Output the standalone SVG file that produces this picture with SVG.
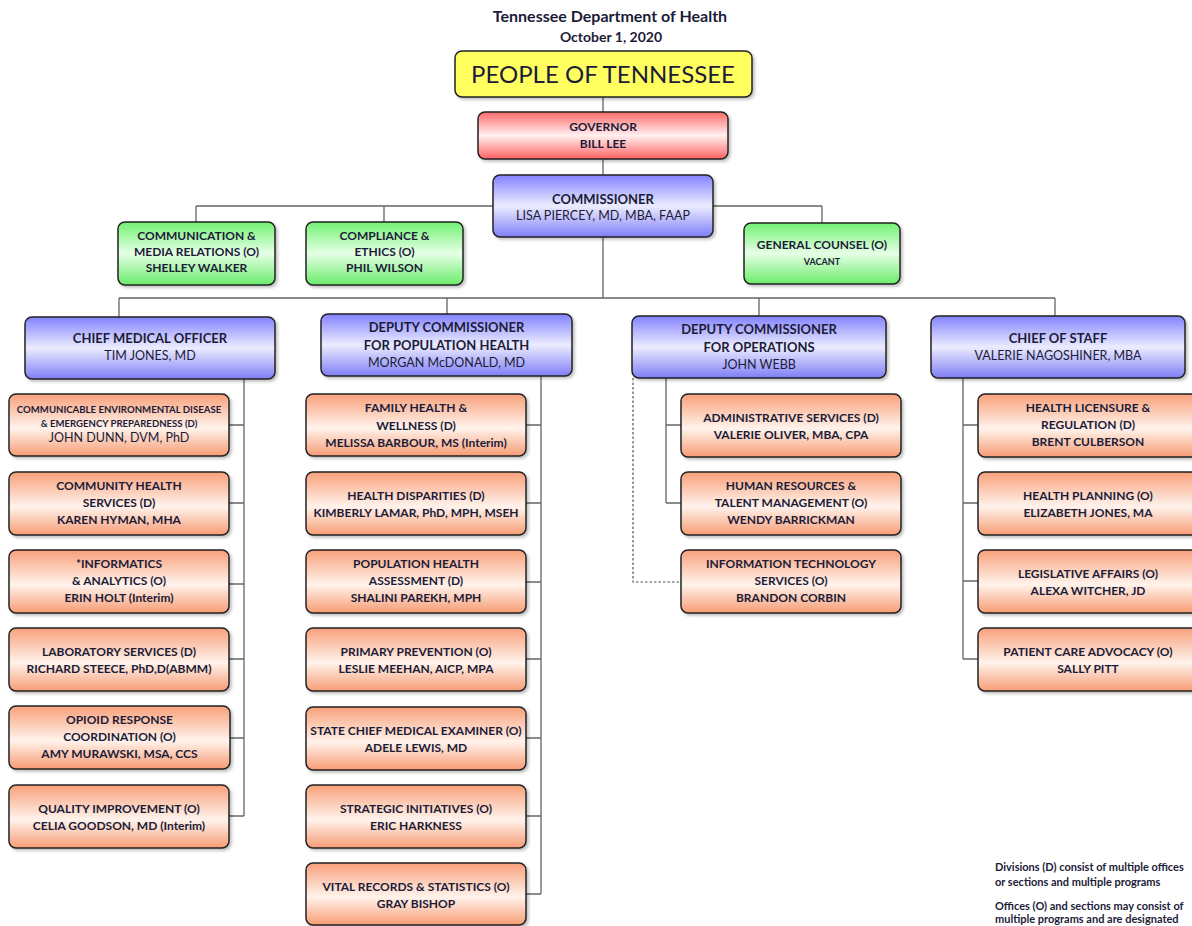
<svg xmlns="http://www.w3.org/2000/svg" width="1192" height="926" viewBox="0 0 1192 926">
<defs>
<linearGradient id="gOr" x1="0" y1="0" x2="0" y2="1"><stop offset="0" stop-color="#f8a07a"/><stop offset="0.55" stop-color="#fff3ec"/><stop offset="1" stop-color="#f79c74"/></linearGradient>
<linearGradient id="gBl" x1="0" y1="0" x2="0" y2="1"><stop offset="0" stop-color="#8282ff"/><stop offset="0.5" stop-color="#ececff"/><stop offset="1" stop-color="#7e7ef6"/></linearGradient>
<linearGradient id="gGr" x1="0" y1="0" x2="0" y2="1"><stop offset="0" stop-color="#72f272"/><stop offset="0.5" stop-color="#e6ffe6"/><stop offset="1" stop-color="#6aec6a"/></linearGradient>
<linearGradient id="gRd" x1="0" y1="0" x2="0" y2="1"><stop offset="0" stop-color="#ff6a6a"/><stop offset="0.5" stop-color="#fff0f0"/><stop offset="1" stop-color="#ff6262"/></linearGradient>
<filter id="sh" x="-5%" y="-10%" width="115%" height="130%"><feDropShadow dx="2" dy="2" stdDeviation="1.5" flood-color="#000" flood-opacity="0.25"/></filter>
</defs>
<style>
.b{stroke:#222;stroke-width:1.5;filter:url(#sh)}
.or{fill:url(#gOr)}.bl{fill:url(#gBl)}.gr{fill:url(#gGr)}.rd{fill:url(#gRd)}.ye{fill:#ffff5e}
text{font-family:Lato,"Liberation Sans",sans-serif;fill:#1c1c38;text-anchor:middle;font-size:12px;font-weight:bold}
.n{font-weight:normal;font-size:12.5px}
.h{font-size:13px}
.sm{font-size:9.6px}
.c{fill:none;stroke:#666;stroke-width:1.3}
.d{fill:none;stroke:#555;stroke-width:1.2;stroke-dasharray:2.5 2}
.foot{text-anchor:start;font-size:11px}
</style>
<rect width="1192" height="926" fill="#fff"/>
<text x="610" y="21.5" style="font-size:16px">Tennessee Department of Health</text>
<text x="611" y="42" style="font-size:14px">October 1, 2020</text>

<g id="connectors">
<path class="c" d="M603 97V112M603 159V175M603 237V298M196 206H822M196 206V222M384 206V222M822 206V223M119 298H1055M119 298V317M447 298V314M759 298V316M1055 298V316"/>
<path class="c" d="M244 379V816M229 425H244M229 503H244M229 584H244M229 659H244M230 738H244M229 816H244"/>
<path class="c" d="M541 376V894M526 425H541M526 503H541M526 582H541M526 659H541M526 738H541M526 816H541M526 894H541"/>
<path class="c" d="M666 378V503M666 425H681M666 503H681"/>
<path class="d" d="M633 378V582H681"/>
<path class="c" d="M963 378V659M963 425H978M963 503H978M963 581H978M963 659H978"/>
</g>

<g id="people"><rect class="b ye" x="455" y="51" width="297" height="46" rx="7"/><text x="603" y="83" style="font-size:24px;font-weight:normal">PEOPLE OF TENNESSEE</text></g>
<g id="governor"><rect class="b rd" x="478" y="112" width="250" height="47" rx="7"/><text x="603" y="131">GOVERNOR</text><text x="603" y="148">BILL LEE</text></g>
<g id="commissioner"><rect class="b bl" x="493" y="175" width="220" height="62" rx="7"/><text class="h" x="603" y="203.5">COMMISSIONER</text><text class="n" x="603" y="219.5">LISA PIERCEY, MD, MBA, FAAP</text></g>

<g id="communication"><rect class="b gr" x="118" y="222" width="157" height="63" rx="7"/><text x="196.5" y="240">COMMUNICATION &amp;</text><text x="196.5" y="256">MEDIA RELATIONS (O)</text><text x="196.5" y="272">SHELLEY WALKER</text></g>
<g id="compliance"><rect class="b gr" x="306" y="222" width="157" height="63" rx="7"/><text x="384.5" y="240">COMPLIANCE &amp;</text><text x="384.5" y="256">ETHICS (O)</text><text x="384.5" y="272">PHIL WILSON</text></g>
<g id="general-counsel"><rect class="b gr" x="744" y="223" width="156" height="61" rx="7"/><text x="822" y="249">GENERAL COUNSEL (O)</text><text class="sm" x="822" y="265" style="font-size:9px">VACANT</text></g>

<g id="cmo"><rect class="b bl" x="25" y="317" width="250" height="62" rx="7"/><text class="h" x="150" y="343">CHIEF MEDICAL OFFICER</text><text class="n" x="150" y="360">TIM JONES, MD</text></g>
<g id="dep-pop"><rect class="b bl" x="321" y="314" width="251" height="62" rx="7"/><text class="h" x="446.5" y="332">DEPUTY COMMISSIONER</text><text class="h" x="446.5" y="350">FOR POPULATION HEALTH</text><text class="n" x="446.5" y="367">MORGAN McDONALD, MD</text></g>
<g id="dep-ops"><rect class="b bl" x="632" y="316" width="254" height="62" rx="7"/><text class="h" x="759" y="334">DEPUTY COMMISSIONER</text><text class="h" x="759" y="352">FOR OPERATIONS</text><text class="n" x="759" y="369">JOHN WEBB</text></g>
<g id="chief-of-staff"><rect class="b bl" x="931" y="316" width="254" height="62" rx="7"/><text class="h" x="1058" y="343">CHIEF OF STAFF</text><text class="n" x="1058" y="360">VALERIE NAGOSHINER, MBA</text></g>

<g id="ceder"><rect class="b or" x="9" y="394" width="220" height="62" rx="7"/><text class="sm" x="119" y="413">COMMUNICABLE ENVIRONMENTAL DISEASE</text><text class="sm" x="119" y="427">&amp; EMERGENCY PREPAREDNESS (D)</text><text class="n" x="119" y="442">JOHN DUNN, DVM, PhD</text></g>
<g id="chs"><rect class="b or" x="9" y="472" width="220" height="63" rx="7"/><text x="119" y="490">COMMUNITY HEALTH</text><text x="119" y="507">SERVICES (D)</text><text x="119" y="524">KAREN HYMAN, MHA</text></g>
<g id="informatics"><rect class="b or" x="9" y="550" width="220" height="63" rx="7"/><text x="119" y="568">*INFORMATICS</text><text x="119" y="585">&amp; ANALYTICS (O)</text><text x="119" y="602">ERIN HOLT (Interim)</text></g>
<g id="lab"><rect class="b or" x="9" y="628" width="220" height="63" rx="7"/><text x="119" y="656">LABORATORY SERVICES (D)</text><text x="119" y="673">RICHARD STEECE, PhD,D(ABMM)</text></g>
<g id="opioid"><rect class="b or" x="9" y="706" width="221" height="63" rx="7"/><text x="119.5" y="724">OPIOID RESPONSE</text><text x="119.5" y="741">COORDINATION (O)</text><text x="119.5" y="758">AMY MURAWSKI, MSA, CCS</text></g>
<g id="quality"><rect class="b or" x="9" y="785" width="220" height="63" rx="7"/><text x="119" y="813">QUALITY IMPROVEMENT (O)</text><text x="119" y="830">CELIA GOODSON, MD (Interim)</text></g>

<g id="family"><rect class="b or" x="306" y="394" width="220" height="62" rx="7"/><text x="416" y="412">FAMILY HEALTH &amp;</text><text x="416" y="429.5">WELLNESS (D)</text><text x="416" y="447">MELISSA BARBOUR, MS (Interim)</text></g>
<g id="disparities"><rect class="b or" x="306" y="472" width="220" height="63" rx="7"/><text x="416" y="500">HEALTH DISPARITIES (D)</text><text x="416" y="517">KIMBERLY LAMAR, PhD, MPH, MSEH</text></g>
<g id="pha"><rect class="b or" x="306" y="550" width="220" height="63" rx="7"/><text x="416" y="568">POPULATION HEALTH</text><text x="416" y="585">ASSESSMENT (D)</text><text x="416" y="602">SHALINI PAREKH, MPH</text></g>
<g id="primary"><rect class="b or" x="306" y="628" width="220" height="63" rx="7"/><text x="416" y="656">PRIMARY PREVENTION (O)</text><text x="416" y="673">LESLIE MEEHAN, AICP, MPA</text></g>
<g id="examiner"><rect class="b or" x="306" y="707" width="220" height="63" rx="7"/><text x="416" y="735">STATE CHIEF MEDICAL EXAMINER (O)</text><text x="416" y="752">ADELE LEWIS, MD</text></g>
<g id="strategic"><rect class="b or" x="306" y="785" width="220" height="63" rx="7"/><text x="416" y="813">STRATEGIC INITIATIVES (O)</text><text x="416" y="830">ERIC HARKNESS</text></g>
<g id="vital"><rect class="b or" x="306" y="863" width="220" height="62" rx="7"/><text x="416" y="891">VITAL RECORDS &amp; STATISTICS (O)</text><text x="416" y="908">GRAY BISHOP</text></g>

<g id="admin"><rect class="b or" x="681" y="394" width="220" height="63" rx="7"/><text x="791" y="422">ADMINISTRATIVE SERVICES (D)</text><text x="791" y="439">VALERIE OLIVER, MBA, CPA</text></g>
<g id="hr"><rect class="b or" x="681" y="472" width="220" height="63" rx="7"/><text x="791" y="490">HUMAN RESOURCES &amp;</text><text x="791" y="507">TALENT MANAGEMENT (O)</text><text x="791" y="524">WENDY BARRICKMAN</text></g>
<g id="it"><rect class="b or" x="681" y="550" width="220" height="63" rx="7"/><text x="791" y="568">INFORMATION TECHNOLOGY</text><text x="791" y="585">SERVICES (O)</text><text x="791" y="602">BRANDON CORBIN</text></g>

<g id="licensure"><rect class="b or" x="978" y="394" width="220" height="63" rx="7"/><text x="1088" y="412">HEALTH LICENSURE &amp;</text><text x="1088" y="429">REGULATION (D)</text><text x="1088" y="446">BRENT CULBERSON</text></g>
<g id="planning"><rect class="b or" x="978" y="472" width="220" height="63" rx="7"/><text x="1088" y="500">HEALTH PLANNING (O)</text><text x="1088" y="517">ELIZABETH JONES, MA</text></g>
<g id="legislative"><rect class="b or" x="978" y="550" width="220" height="63" rx="7"/><text x="1088" y="578">LEGISLATIVE AFFAIRS (O)</text><text x="1088" y="595">ALEXA WITCHER, JD</text></g>
<g id="patient"><rect class="b or" x="978" y="628" width="220" height="63" rx="7"/><text x="1088" y="656">PATIENT CARE ADVOCACY (O)</text><text x="1088" y="673">SALLY PITT</text></g>

<g id="footnote">
<text class="foot" x="995" y="871">Divisions (D) consist of multiple offices</text>
<text class="foot" x="995" y="886">or sections and multiple programs</text>
<text class="foot" x="995" y="910">Offices (O) and sections may consist of</text>
<text class="foot" x="995" y="923">multiple programs and are designated</text>
</g>
</svg>
